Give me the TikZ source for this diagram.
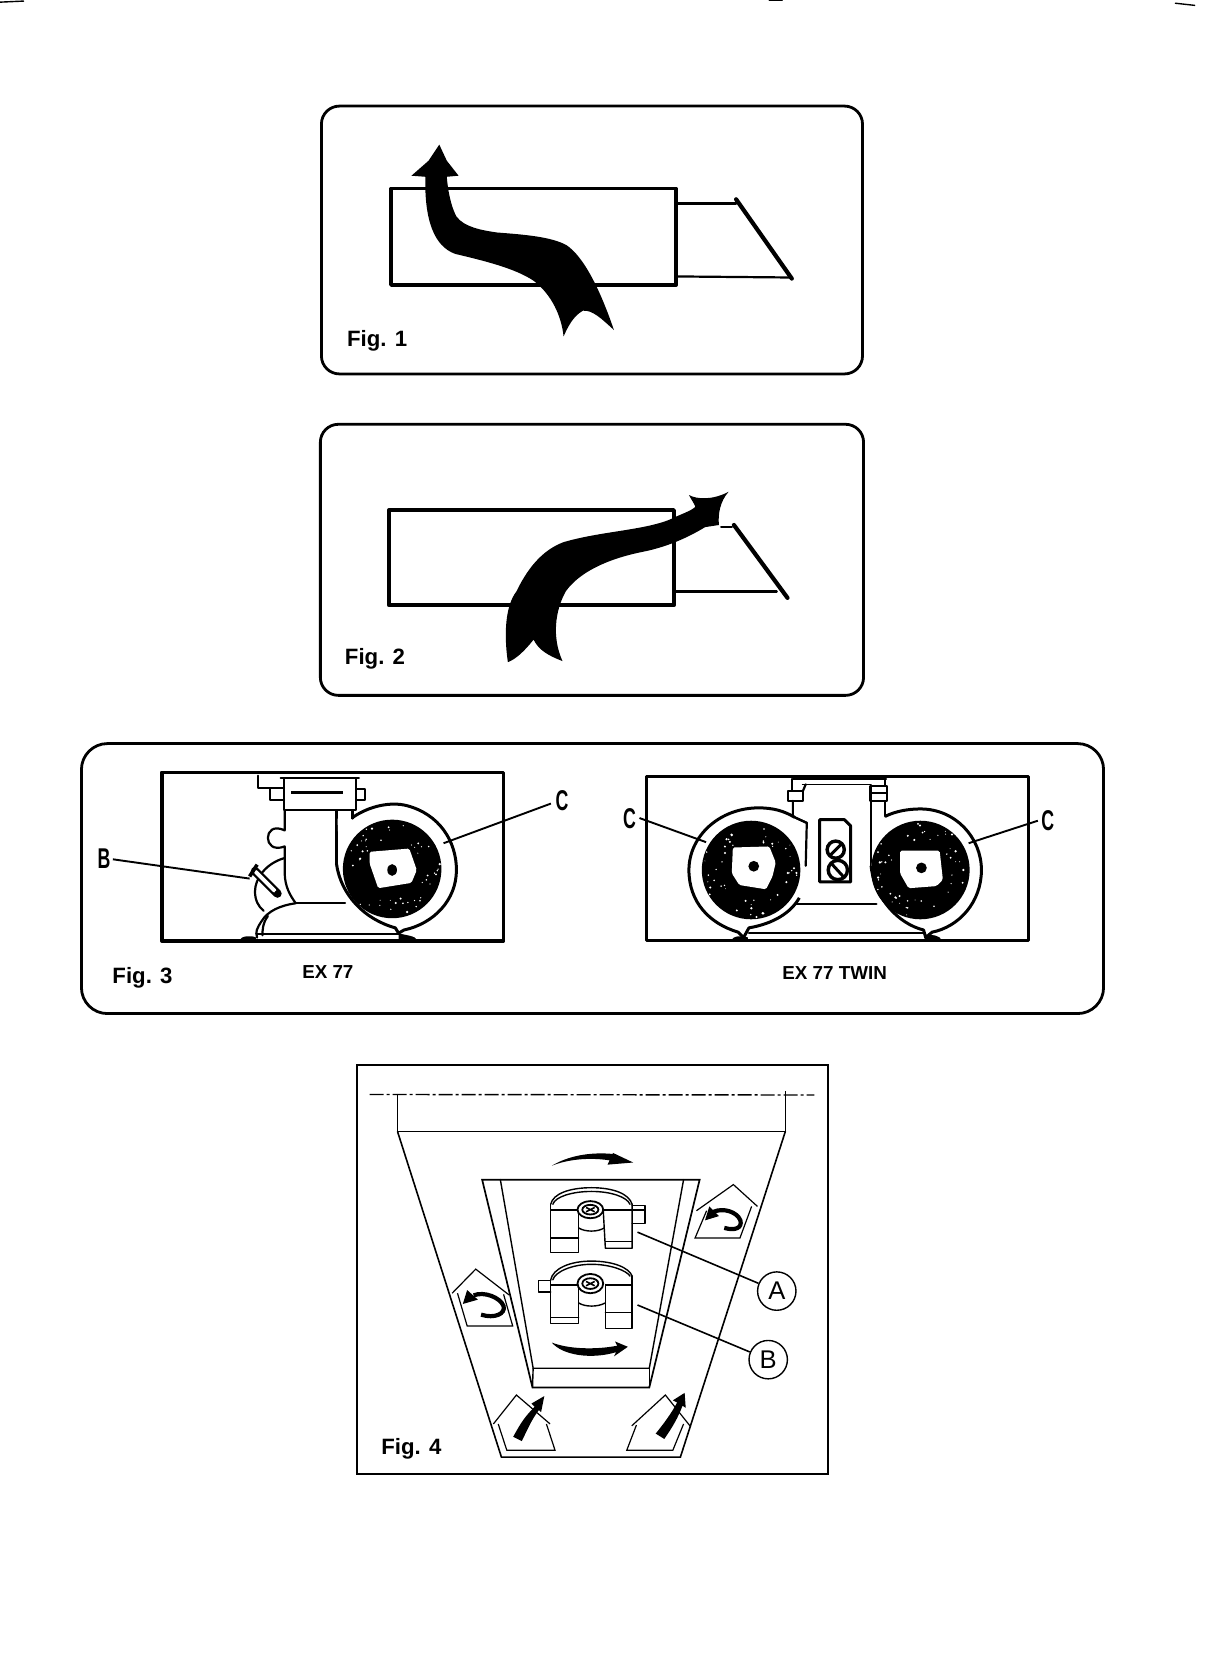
\documentclass[tikz,border=0pt]{standalone}
\usepackage{fontspec}
\usepackage{graphicx}
\setmainfont{Liberation Sans}
\newcommand\figfont{\fontsize{11.1}{13}\selectfont\bfseries}
\newcommand\modelfont{\fontsize{9.4}{11}\selectfont\bfseries}
\newcommand\circfont{\fontsize{12.8}{14}\selectfont}
\newcommand\narrowletter[1]{\scalebox{.62}[1]{\fontsize{14.3}{15}\selectfont\bfseries #1}}
% fan wheel: black ring with white speckles
\newcommand\fanring[3]{%
  \fill[black] (#1,#2) circle[radius=46];
  \pgfmathsetseed{#3}
  \foreach \i in {1,...,48}{%
    \pgfmathsetmacro\aa{rnd*360}%
    \pgfmathsetmacro\rr{28+rnd*17}%
    \pgfmathsetmacro\ss{0.4+rnd*0.8}%
    \fill[white] ({#1+\rr*cos(\aa)},{#2+\rr*sin(\aa)}) circle[radius=\ss];
  }%
}
\tikzset{
  panel/.style={line width=1.4pt,rounded corners=9pt,line join=round},
  heavy/.style={line width=1.9pt,line join=round,line cap=round},
  medium/.style={line width=1.1pt,line join=round,line cap=round},
  fine/.style={line width=.7pt,line join=round,line cap=round},
  leader/.style={line width=.95pt},
  house/.style={line width=.6pt,line join=miter},
  curlarrow/.style={line width=2.1pt,line cap=butt},
  hub/.style={white,rounded corners=.8pt},
  figlabel/.style={font=\figfont,inner sep=0pt},
  modellabel/.style={font=\modelfont,inner sep=0pt},
  callout/.style={draw,circle,line width=.7pt,minimum size=19.2pt,inner sep=0pt,font=\circfont,fill=white},
  letterlabel/.style={inner sep=0pt}
}
\begin{document}
\begin{tikzpicture}[x=.5357pt,y=-.5357pt]
\fill[white] (0,0) rectangle (1140.4,1568);
\useasboundingbox (0,0) rectangle (1140.4,1568);
% page-edge specks
\draw[fine] (0,2) -- (22,1);
\draw[fine] (718,0.5) -- (730,0.5);
\draw[fine] (1097,3) -- (1115,5);

%%%% Fig. 1
\draw[panel] (300,99) rectangle (805,349);
\draw[heavy] (365,176) rectangle (631,266);
\draw[medium] (631,190) -- (687,190);
\draw[medium] (631,258) -- (739,259);
\draw[line width=2.1pt,line cap=round] (687,186) -- (739,260);
\fill[black] (410,135) -- (417,150) -- (428,164) -- (417,165)
  .. controls (418,178) and (421,193) .. (426,202)
  .. controls (433,212) and (450,215) .. (464,217)
  .. controls (490,219) and (515,221) .. (529,229)
  .. controls (545,240) and (560,270) .. (573,308)
  .. controls (562,298) and (553,289) .. (544,290)
  .. controls (535,295) and (530,305) .. (526,314)
  .. controls (524,295) and (515,275) .. (498,262)
  .. controls (480,250) and (450,243) .. (425,237)
  .. controls (405,230) and (396,205) .. (397,165)
  -- (384,164) -- (400,150) -- cycle;
\node[figlabel] (f1) at (352,318) {Fig. 1};

%%%% Fig. 2
\draw[panel] (299,396) rectangle (806,649);
\draw[heavy] (363,476) rectangle (629,565);
\draw[medium] (629,552) -- (725,552);
\draw[medium] (673,492) -- (683,492);
\draw[line width=2.1pt,line cap=round] (685,490) -- (735,558);
\fill[black] (643,462) .. controls (650,466) and (665,467) .. (680,459)
  .. controls (672,468) and (670,480) .. (671,490) -- (658,492)
  .. controls (645,500) and (625,510) .. (600,515)
  .. controls (565,522) and (540,535) .. (528,552)
  .. controls (518,570) and (515,595) .. (525,617)
  .. controls (512,612) and (503,607) .. (498,597)
  .. controls (490,607) and (482,615) .. (474,618)
  .. controls (470,590) and (472,565) .. (482,552)
  .. controls (495,525) and (510,512) .. (526,506)
  .. controls (560,496) and (600,495) .. (625,485)
  .. controls (635,480) and (645,477) .. (649,473)
  .. controls (648,470) and (645,466) .. (643,462) -- cycle;
\node[figlabel] (f2) at (350,615) {Fig. 2};

%%%% Fig. 3
\draw[panel,rounded corners=13pt] (76,694) rectangle (1030,946);
\node[figlabel] (f3) at (133,913) {Fig. 3};
\node[modellabel] (m1) at (306,907) {EX 77};
\node[modellabel] (m2) at (779,908) {EX 77 TWIN};

% --- left unit
\draw[heavy] (151,721) rectangle (470,878);
\draw[medium] (241,724) -- (241,735.5) -- (252,735.5) -- (252,747) -- (265,747);
\draw[medium] (252,735.5) -- (265,735.5);
\draw[medium] (262,726) -- (335,726);
\draw[medium] (265,726) rectangle (332.5,756);
\draw[medium] (332.5,736.5) -- (340.5,736.5) -- (340.5,747) -- (332.5,747);
\draw[line width=1.6pt] (272,740) -- (320,740);
\draw[medium] (265.7,756) -- (265.7,775)
   .. controls (255,770) and (250,776) .. (250,782)
   .. controls (250,788) and (255,794) .. (265.7,790)
   -- (265.7,815) .. controls (266,828) and (271,836) .. (276,843);
\draw[medium] (314,757) -- (314,806);
\draw[medium] (276,843) -- (322,843);
% disc behind the lever
\draw[medium] (265,801) .. controls (248,806) and (238,820) .. (238,832)
   .. controls (238,840) and (241,846) .. (246,850);
\draw[medium] (276,843) .. controls (262,845) and (250,850) .. (244,860)
   .. controls (240,866) and (238,870) .. (240,875);
\draw[medium] (250,855) .. controls (245,862) and (245,868) .. (245,873);
% base
\draw[medium] (240,871.5) -- (372,871.5);
\fill[black] (223,878) .. controls (225,873) and (235,873) .. (239,875) -- (239,878) -- cycle;
\fill[black] (372,878) -- (372,871) .. controls (378,873) and (388,873) .. (390,878) -- cycle;
% volute
\draw[heavy,line width=1.5pt,fill=white] (329,763)
   .. controls (345,752) and (365,748) .. (380,752)
   .. controls (410,760) and (426,785) .. (426,812)
   .. controls (426,840) and (405,862) .. (377,868)
   -- (372,871) -- (369,866)
   .. controls (340,858) and (318,835) .. (314,806);
\draw[medium] (314,806) -- (314,760);
\fill[white] (315,764) -- (329,764) -- (316,790) -- cycle;
\draw[medium] (329,757) -- (329,764);
\fanring{366}{811}{11}
\fill[hub] (345,795) -- (382,792) -- (389,812) -- (384,824) -- (353,829) -- (345,806) -- cycle;
\fill[black] (366,812) ellipse [x radius=4.5,y radius=5.5];
% lever B
\draw[line width=4.2pt,line cap=round] (238,813) -- (259,834);
\draw[line width=2pt,white,line cap=round] (239,814) -- (256,831);
\draw[line width=1.8pt] (233,818) -- (240,807);
\fill[black] (259,834) circle[radius=3];
% leaders
\node[letterlabel] (lb) at (97,801) {\narrowletter{B}};
\coordinate (lbend) at (233,820);
\draw[leader] (lb.east) ++(2,1) -- (lbend);
\node[letterlabel] (lc) at (524.5,747) {\narrowletter{C}};
\coordinate (lcend) at (414,787);
\draw[leader] (lc.west) ++(-4,3) -- (lcend);

% --- right unit
\draw[heavy,line width=1.5pt] (603,725) rectangle (960,878);
\draw[medium] (740,727) -- (827,727);
\draw[fine] (749,732) -- (813,732);
\draw[medium] (739.5,727) -- (739.5,738);
\draw[medium] (735.5,738) rectangle (749.5,747.5);
\draw[medium] (740,747.5) -- (740,762) -- (753,768);
\draw[medium] (753,768) -- (752,808);
\draw[medium] (749.5,738) -- (752,732);
\draw[medium] (812.5,733.5) rectangle (827.5,747.5);
\draw[medium] (812.5,740) -- (827.5,740);
\draw[medium] (826,727) -- (826,733.5);
\draw[medium] (813,747.5) -- (813,808);
\draw[medium] (826,747.5) -- (826,762);
\draw[medium] (743,843.6) -- (818,843.6);
\draw[medium] (699,871) -- (863,871);
% panel with screws
\draw[line width=1.5pt,line join=round] (765,765) -- (788,765) -- (794,771) -- (794,823) -- (765,823) -- cycle;
\draw[line width=1.7pt] (780,793) circle[radius=8];
\draw[line width=1.5pt] (775,798) -- (785,788);
\draw[line width=1.7pt] (782,812) circle[radius=9];
\draw[line width=1.5pt] (776,806) -- (787,818);
% left volute
\draw[line width=1.5pt,fill=white,line join=round] (742,763)
   .. controls (732,757) and (722,754) .. (708,754)
   .. controls (672,754) and (643,780) .. (643,812)
   .. controls (643,842) and (662,862) .. (689,870)
   -- (694,875) -- (699,866)
   .. controls (722,862) and (738,852) .. (746,838);
\draw[medium] (742,763) -- (753,768);
\fanring{701}{812}{23}
\fill[hub] (684,791) -- (718,790) -- (724,805) -- (721,818) -- (715,830) -- (690,826) -- (683,815) -- cycle;
\fill[black] (703.5,808.5) circle[radius=5];
% right volute
\draw[line width=1.5pt,fill=white,line join=round] (826,762)
   .. controls (836,757) and (848,755) .. (859,755)
   .. controls (892,755) and (916,782) .. (916,812)
   .. controls (916,842) and (895,865) .. (870,870)
   -- (864,875) -- (862,868)
   .. controls (838,862) and (816,838) .. (813,808);
\fill[white] (814,764) -- (825,764) -- (814,790) -- cycle;
\fanring{859}{812}{37}
\fill[hub] (840,794) -- (877,794) -- (880,821) -- (874,827) -- (848,829) -- (840,815) -- cycle;
\fill[black] (860,810) circle[radius=5];
\fill[black] (682,878) .. controls (684,873) and (694,873) .. (698,875) -- (698,878) -- cycle;
\fill[black] (863,878) -- (863,873) .. controls (870,872) and (878,873) .. (879,878) -- cycle;
% leaders
\node[letterlabel] (rc1) at (587.5,764.5) {\narrowletter{C}};
\coordinate (rc1end) at (659,786);
\draw[leader] (rc1.east) ++(3,-1) -- (rc1end);
\node[letterlabel] (rc2) at (978,766) {\narrowletter{C}};
\coordinate (rc2end) at (904,787);
\draw[leader] (rc2.west) ++(-3,0) -- (rc2end);

%%%% Fig. 4
\draw[line width=.95pt] (333,994) rectangle (773,1376);
\draw[line width=.7pt,dash pattern=on 7pt off 1.5pt on 1.5pt off 1.5pt] (345,1021.5) -- (760,1022);
\draw[line width=.8pt] (371,1021) -- (371,1056) -- (733,1056) -- (733,1018);
\draw[line width=.8pt] (371,1056) -- (468,1360) -- (635,1360) -- (733,1056);
% inner tray
\draw[line width=.85pt] (450,1101) -- (653,1101) -- (606,1295) -- (497,1295) -- cycle;
\draw[fine] (467,1101) -- (497.6,1277) -- (606,1277) -- (638,1101);
\draw[fine] (497.6,1277) -- (497,1295);
\draw[fine] (606,1277) -- (606,1295);
% upper clip
\draw[fine] (514,1124) .. controls (516,1114) and (532,1108.5) .. (552,1108.5)
   .. controls (572,1108.5) and (587,1114) .. (590,1124);
\draw[fine] (516,1124) .. controls (518,1117) and (534,1112) .. (552,1112)
   .. controls (570,1112) and (585,1117) .. (588,1124);
\draw[fine] (514,1124) -- (514,1169) -- (540,1169) -- (540,1129);
\draw[fine] (563,1129) -- (565,1165) -- (590,1165) -- (590,1124);
\draw[line width=.9pt] (514,1129.5) -- (540,1129.5);
\draw[line width=.9pt] (563,1129.5) -- (602,1129.5);
\draw[fine] (590,1125) -- (602,1125) -- (602,1142) -- (590,1142);
\draw[fine] (514,1155.5) -- (540,1155.5);
\draw[fine] (565,1158.5) -- (590,1158.5);
\draw[fine] (540,1146) .. controls (546,1150) and (558,1150) .. (564,1146);
\draw[line width=.9pt,fill=white] (551,1129) ellipse [x radius=12,y radius=8];
\draw[line width=.9pt] (551,1129) ellipse [x radius=7.5,y radius=4.5];
\draw[line width=.8pt] (547,1127) -- (555,1131) (547,1131) -- (555,1127);
% lower clip
\draw[fine] (514,1194.5) .. controls (516,1184) and (532,1177) .. (552,1177)
   .. controls (572,1177) and (587,1183) .. (590,1191);
\draw[fine] (516,1194.5) .. controls (518,1187) and (534,1180) .. (552,1180)
   .. controls (570,1180) and (585,1186) .. (588,1191);
\draw[fine] (514,1194.5) -- (514,1235) -- (540,1235) -- (540,1199);
\draw[fine] (565,1199) -- (565,1240) -- (590,1240) -- (590,1191);
\draw[line width=.9pt] (514,1199) -- (540,1199);
\draw[line width=.9pt] (565,1199) -- (590,1199);
\draw[fine] (514,1195) -- (502.5,1195) -- (502.5,1206) -- (514,1206);
\draw[fine] (514,1229.5) -- (540,1229.5);
\draw[fine] (565,1225) -- (590,1225);
\draw[fine] (540,1216) .. controls (546,1220) and (558,1220) .. (565,1216);
\draw[line width=.9pt,fill=white] (551,1198) ellipse [x radius=12,y radius=9];
\draw[line width=.9pt] (551,1198) ellipse [x radius=7.5,y radius=5];
\draw[line width=.8pt] (547,1196) -- (555,1200) (547,1200) -- (555,1196);
% callouts
\node[callout] (ca) at (725,1205) {A};
\node[callout] (cb) at (717,1269) {B};
\coordinate (caend) at (595,1150);
\coordinate (cbend) at (595,1218);
\draw[line width=.8pt] (ca) -- (caend);
\draw[line width=.8pt] (cb) -- (cbend);
% flow arrows on tray
\fill[black] (515,1088) .. controls (530,1079) and (550,1075) .. (572,1077)
  -- (572,1076) -- (591,1085) -- (567,1087) -- (569,1083)
  .. controls (550,1080) and (530,1082) .. (515,1088) -- cycle;
\fill[black] (515,1253) .. controls (530,1259) and (555,1260) .. (576,1256)
  -- (574,1252) -- (586,1257) -- (573,1266) -- (575,1262)
  .. controls (552,1269) and (525,1265) .. (515,1253) -- cycle;
% houses
\draw[house] (650,1130) -- (684.5,1105.6) -- (707,1126);
\draw[house] (659.5,1130) -- (648.7,1155.5) -- (690.6,1155.5) -- (701.5,1126);
\draw[house] (422,1207) -- (444,1184.5) -- (475,1208.5);
\draw[house] (427,1207) -- (436,1237.5) -- (478.5,1237.5) -- (470,1208);
\draw[house] (460.5,1329) -- (482,1302) -- (513.4,1329);
\draw[house] (465,1329) -- (473,1353.5) -- (518,1353.5) -- (510,1329);
\draw[house] (589.6,1330.8) -- (621,1302) -- (644,1330.8);
\draw[house] (594,1330) -- (585,1353.5) -- (628,1353.5) -- (638,1329);
% curved arrows in the houses
\draw[curlarrow] (676,1146) .. controls (686,1149) and (693,1146) .. (691,1139)
   .. controls (688,1131) and (675,1127) .. (666,1131);
\fill[black] (658,1139) -- (662,1126) -- (671,1135) -- cycle;
\draw[curlarrow] (449,1227) .. controls (462,1231) and (472,1226) .. (470,1219)
   .. controls (467,1211) and (452,1205) .. (442,1209);
\fill[black] (432,1217) -- (436,1204) -- (446,1213) -- cycle;
\fill[black] (479,1341) .. controls (486,1328) and (490,1322) .. (499,1313)
  -- (496,1310) -- (508,1303) -- (505,1318) -- (503,1316)
  .. controls (496,1325) and (492,1335) .. (487,1345) -- cycle;
\fill[black] (612,1338) .. controls (620,1328) and (626,1320) .. (632,1309)
  -- (628,1307) -- (639,1300) -- (640,1314) -- (637,1312)
  .. controls (633,1323) and (627,1333) .. (620,1343) -- cycle;
\node[figlabel] (f4) at (384,1352) {Fig. 4};
\end{tikzpicture}
\end{document}
